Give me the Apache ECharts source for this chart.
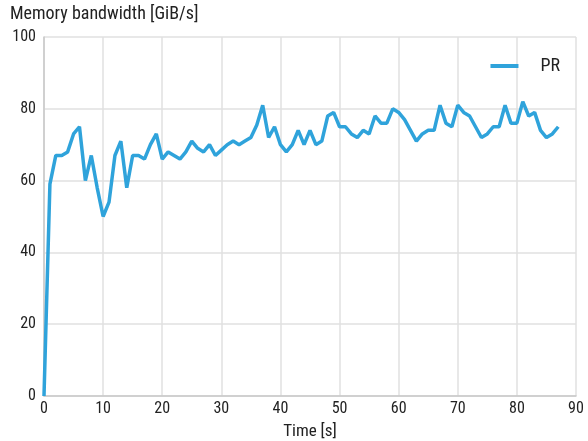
<!DOCTYPE html>
<html>
<head>
<meta charset="utf-8">
<script src="https://cdn.jsdelivr.net/npm/echarts@6/dist/echarts.min.js"></script>
<style>
  html, body { margin: 0; padding: 0; background: #fff; }
  #chart { width: 588px; height: 441px; }
</style>
</head>
<body>
<div id="chart"></div>
<script>
// Sampled memory bandwidth, one reading per second
const timeSeconds = [
  0, 1, 2, 3, 4, 5, 6, 7, 8, 9,
  10, 11, 12, 13, 14, 15, 16, 17, 18, 19,
  20, 21, 22, 23, 24, 25, 26, 27, 28, 29,
  30, 31, 32, 33, 34, 35, 36, 37, 38, 39,
  40, 41, 42, 43, 44, 45, 46, 47, 48, 49,
  50, 51, 52, 53, 54, 55, 56, 57, 58, 59,
  60, 61, 62, 63, 64, 65, 66, 67, 68, 69,
  70, 71, 72, 73, 74, 75, 76, 77, 78, 79,
  80, 81, 82, 83, 84, 85, 86, 87
];
const bandwidthPR = [
  0, 59, 67, 67, 68, 73, 75, 60, 67, 58,
  50, 54, 67, 71, 58, 67, 67, 66, 70, 73,
  66, 68, 67, 66, 68, 71, 69, 68, 70, 67,
  68.5, 70, 71, 70, 71, 72, 75.5, 81, 72, 75,
  70, 68, 70, 74, 70, 74, 70, 71, 78, 79,
  75, 75, 73, 72, 74, 73, 78, 76, 76, 80,
  79, 77, 74, 71, 73, 74, 74, 81, 76, 75,
  81, 79, 78, 75, 72, 73, 75, 75, 81, 76,
  76, 82, 78, 79, 74, 72, 73, 75
];
const seriesName = 'PR';
const yAxisTitle = 'Memory bandwidth [GiB/s]';
const xAxisTitle = 'Time [s]';

const FONT = "'Roboto Condensed', 'Liberation Sans Narrow', 'DejaVu Sans Condensed', 'Roboto', sans-serif";
const chart = echarts.init(document.getElementById('chart'), null, { renderer: 'canvas' });

chart.setOption({
  animation: false,
  backgroundColor: '#ffffff',
  textStyle: { fontFamily: FONT },
  title: {
    text: yAxisTitle,
    left: 10,
    top: 5,
    padding: 0,
    textStyle: { fontFamily: FONT, fontSize: 18, fontWeight: 'normal', color: '#222' }
  },
  legend: {
    data: [seriesName],
    right: 23,
    top: 52,
    itemWidth: 28,
    itemHeight: 4,
    itemGap: 10,
    icon: 'rect',
    textStyle: { fontFamily: FONT, fontSize: 18, color: '#222', padding: [0, 0, 0, 17] }
  },
  grid: { left: 44, right: 12, top: 37, bottom: 45, containLabel: false, outerBoundsMode: 'none' },
  xAxis: {
    type: 'value',
    min: 0,
    max: 90,
    interval: 10,
    name: xAxisTitle,
    nameLocation: 'middle',
    nameGap: 27,
    nameTextStyle: { fontFamily: FONT, fontSize: 17, color: '#222' },
    axisLine: { show: true, lineStyle: { color: '#c8c8c8', width: 1.5 } },
    axisTick: { show: false },
    axisLabel: { fontFamily: FONT, fontSize: 16, color: '#222', margin: 5 },
    splitLine: { show: true, lineStyle: { color: '#e0e0e0', width: 1.5 } }
  },
  yAxis: {
    type: 'value',
    min: 0,
    max: 100,
    interval: 20,
    axisLine: { show: true, lineStyle: { color: '#c8c8c8', width: 1.5 } },
    axisTick: { show: false },
    axisLabel: { fontFamily: FONT, fontSize: 16, color: '#222', margin: 8 },
    splitLine: { show: true, lineStyle: { color: '#e0e0e0', width: 1.5 } }
  },
  series: [{
    name: seriesName,
    type: 'line',
    data: timeSeconds.map((t, i) => [t, bandwidthPR[i]]),
    showSymbol: false,
    symbol: 'none',
    lineStyle: { color: '#2fa3db', width: 3.5 },
    itemStyle: { color: '#2fa3db' }
  }]
});
</script>
</body>
</html>
